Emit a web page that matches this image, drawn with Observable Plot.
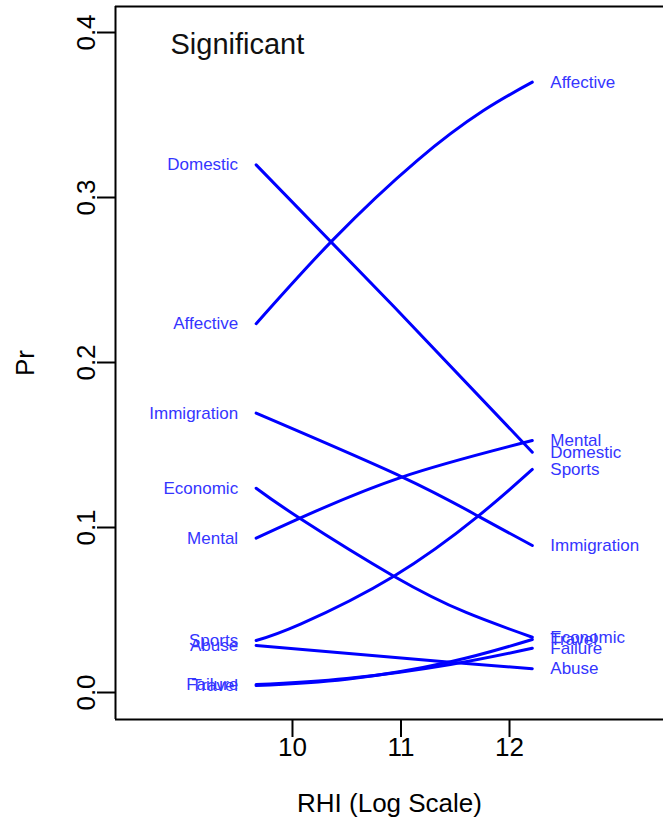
<!DOCTYPE html>
<html><head><meta charset="utf-8">
<script src="https://cdn.jsdelivr.net/npm/d3@7"></script>
<script src="https://cdn.jsdelivr.net/npm/@observablehq/plot@0.6"></script>
<style>body{margin:0;background:#fff}#chart svg{display:block}</style>
</head><body><div id="chart"></div>
<script>
const categories = ["Affective","Domestic","Immigration","Economic","Mental","Sports","Abuse","Failure","Travel"];
const affective   = [[9.665,0.2235],[10.375,0.2745],[11.149,0.3224],[11.76,0.3527],[12.21,0.3699]];
const domestic    = [[9.665,0.3198],[10.94,0.2335],[12.21,0.1456]];
const immigration = [[9.665,0.1693],[11.002,0.1309],[11.711,0.1069],[12.21,0.0891]];
const economic    = [[9.665,0.1238],[10.074,0.1053],[10.934,0.0705],[11.6,0.0485],[12.21,0.0335]];
const mental      = [[9.665,0.0935],[10.074,0.1058],[11.002,0.1304],[12.21,0.1527]];
const sports      = [[9.665,0.0315],[10.074,0.0415],[10.934,0.0705],[11.711,0.1069],[12.21,0.1352]];
const abuse       = [[9.665,0.0285],[11.456,0.0184],[12.21,0.0144]];
const failure     = [[9.665,0.0048],[10.5,0.0085],[11.456,0.0170],[12.21,0.0268]];
const travel      = [[9.665,0.0042],[10.5,0.0080],[11.456,0.0186],[12.21,0.0321]];
const xTicks = [10, 11, 12];
const yTicks = [0, 0.1, 0.2, 0.3, 0.4];
const panelTitle = "Significant";
const xTitle = "RHI (Log Scale)";
const yTitle = "Pr";

const seriesPoints = {Affective: affective, Domestic: domestic, Immigration: immigration, Economic: economic,
  Mental: mental, Sports: sports, Abuse: abuse, Failure: failure, Travel: travel};
const rows = categories.flatMap(c => seriesPoints[c].map(([x, y]) => ({cat: c, x, y})));
const starts = categories.map(c => { const p = seriesPoints[c][0]; return {cat: c, x: p[0], y: p[1]}; });
const ends = categories.map(c => { const a = seriesPoints[c]; const p = a[a.length - 1]; return {cat: c, x: p[0], y: p[1]}; });

const xDom = [8.369, 13.419];
const yDom = [-0.01636, 0.41576];
const labelColor = "#3535ff";

const chart = Plot.plot({
  width: 663, height: 829,
  marginLeft: 115, marginRight: 0, marginTop: 6, marginBottom: 110,
  x: {domain: xDom},
  y: {domain: yDom},
  style: {fontFamily: "'Liberation Sans', Arial, sans-serif", background: "white", color: "black"},
  marks: [
    Plot.ruleX([xDom[0]], {stroke: "black", strokeWidth: 2}),
    Plot.ruleY(yDom, {stroke: "black", strokeWidth: 2}),
    Plot.axisY(yTicks, {anchor: "left", tickSize: 18, tickRotate: -90, fontSize: 26, strokeWidth: 2,
      tickFormat: d3.format(".1f"), label: yTitle, labelAnchor: "center", labelArrow: "none", labelOffset: 100}),
    Plot.axisX(xTicks, {anchor: "bottom", tickSize: 18, fontSize: 26, strokeWidth: 2, tickPadding: 0,
      tickFormat: d => String(d), label: xTitle, labelAnchor: "center", labelArrow: "none", labelOffset: 92}),
    Plot.line(rows, {x: "x", y: "y", z: "cat", stroke: "#0000ff", strokeWidth: 3, curve: "natural"}),
    Plot.text(starts, {x: "x", y: "y", text: "cat", textAnchor: "end", dx: -18, fill: labelColor, fontSize: 17}),
    Plot.text(ends, {x: "x", y: "y", text: "cat", textAnchor: "start", dx: 18, fill: labelColor, fontSize: 17}),
    Plot.text([panelTitle], {frameAnchor: "top-left", dx: 55, dy: 27, lineAnchor: "top", fontSize: 29, fill: "#111"})
  ]
});
document.getElementById("chart").appendChild(chart);
</script>
</body></html>
